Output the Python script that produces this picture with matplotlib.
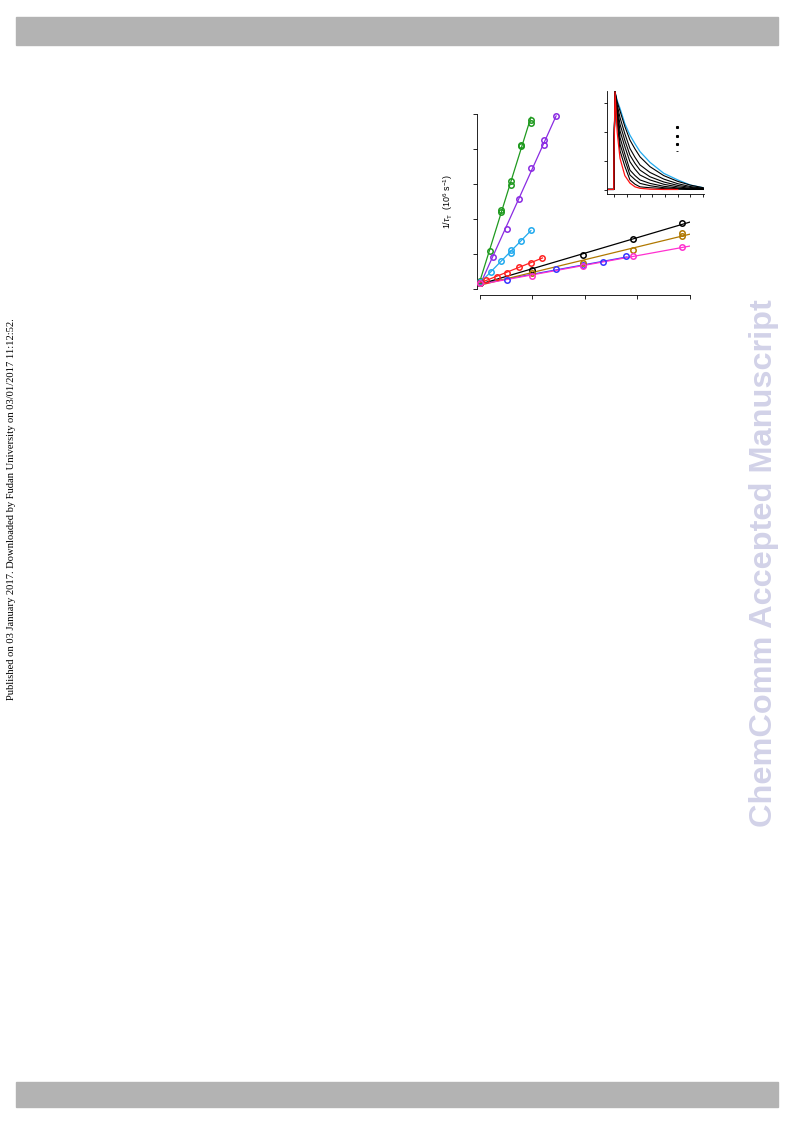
import numpy as np
import matplotlib
matplotlib.use("Agg")
from matplotlib import pyplot as plt
from matplotlib.patches import Rectangle

plt.rcParams["font.family"] = ["Liberation Sans", "DejaVu Sans"]
plt.rcParams["mathtext.fontset"] = "custom"
plt.rcParams["mathtext.rm"] = "Liberation Sans"
plt.rcParams["mathtext.it"] = "Liberation Sans:italic"

# main panel: 1/tau_T vs concentration, one series per quencher
green_x = [0.0, 0.20, 0.40, 0.40, 0.59, 0.59, 0.775, 0.775, 0.965, 0.965]
green_y = [0.23, 1.09, 2.20, 2.26, 2.98, 3.10, 4.09, 4.12, 4.75, 4.82]
purple_x = [0.0, 0.25, 0.51, 0.74, 0.98, 1.22, 1.22, 1.45]
purple_y = [0.20, 0.92, 1.72, 2.57, 3.45, 4.11, 4.25, 4.95]
cyan_x = [0.0, 0.21, 0.40, 0.59, 0.59, 0.78, 0.965]
cyan_y = [0.20, 0.49, 0.80, 1.03, 1.11, 1.39, 1.68]
red_x = [0.0, 0.11, 0.32, 0.51, 0.74, 0.965, 1.19]
red_y = [0.19, 0.26, 0.35, 0.47, 0.62, 0.76, 0.90]
black_x = [0.0, 1.0, 1.97, 2.92, 3.84]
black_y = [0.18, 0.56, 0.99, 1.42, 1.88]
brown_x = [0.0, 1.0, 1.97, 2.92, 3.84, 3.84]
brown_y = [0.18, 0.46, 0.75, 1.13, 1.51, 1.60]
magenta_x = [0.0, 1.0, 1.97, 2.92, 3.84]
magenta_y = [0.18, 0.37, 0.65, 0.94, 1.21]
blue_x = [0.0, 0.51, 1.45, 1.97, 2.35, 2.79]
blue_y = [0.18, 0.26, 0.57, 0.68, 0.78, 0.94]

series = [
    (green_x, green_y, "#1f9a1f", 0.97),
    (purple_x, purple_y, "#8a2be2", 1.45),
    (cyan_x, cyan_y, "#22aaee", 0.97),
    (red_x, red_y, "#ff2020", 1.19),
    (blue_x, blue_y, "#3535ff", 2.80),
    (black_x, black_y, "#000000", 4.0),
    (brown_x, brown_y, "#b07800", 4.0),
    (magenta_x, magenta_y, "#ff30d0", 4.0),
]

# inset: transient decays (normalised), cyan slowest, red fastest
t = [-0.45, -0.02, 0.0, 0.08, 0.25, 0.47, 0.85, 1.25, 1.65, 2.04, 2.82, 3.9, 5.0, 6.0, 7.0]
decay_cyan = [0.02, 0.02, 1.2, 3.40, 3.10, 2.83, 2.30, 1.90, 1.60, 1.33, 0.96, 0.58, 0.35, 0.17, 0.08]
decay_black = [
    [0.02, 0.02, 1.2, 3.40, 3.05, 2.74, 2.20, 1.73, 1.42, 1.15, 0.81, 0.50, 0.30, 0.17, 0.08],
    [0.02, 0.02, 1.2, 3.40, 2.95, 2.51, 1.95, 1.44, 1.13, 0.87, 0.61, 0.38, 0.22, 0.12, 0.06],
    [0.02, 0.02, 1.2, 3.40, 2.85, 2.28, 1.72, 1.21, 0.92, 0.69, 0.46, 0.28, 0.16, 0.09, 0.05],
    [0.02, 0.02, 1.2, 3.40, 2.75, 2.05, 1.50, 0.98, 0.72, 0.52, 0.35, 0.20, 0.11, 0.06, 0.04],
    [0.02, 0.02, 1.2, 3.40, 2.65, 1.82, 1.25, 0.69, 0.50, 0.35, 0.23, 0.13, 0.07, 0.04, 0.03],
    [0.02, 0.02, 1.2, 3.40, 2.50, 1.59, 1.05, 0.52, 0.36, 0.23, 0.15, 0.08, 0.05, 0.03, 0.02],
    [0.02, 0.02, 1.2, 3.40, 2.35, 1.36, 0.82, 0.35, 0.20, 0.11, 0.08, 0.05, 0.03, 0.02, 0.02],
]
decay_red = [0.02, 0.02, 1.2, 3.40, 2.00, 1.10, 0.50, 0.24, 0.11, 0.06, 0.03, 0.02, 0.02]

legend_key_x = [4.94, 4.94, 4.94, 4.94]
legend_key_y = [2.18, 1.87, 1.59, 1.35]

W, H = 793, 1123
fig = plt.figure(figsize=(W / 100, H / 100), dpi=100)

# page header / footer bars
fig.patches.append(Rectangle((16 / W, 1 - 45 / H), 762 / W, 28 / H,
                             transform=fig.transFigure, color="#b3b3b3", zorder=0))
fig.patches.append(Rectangle((16 / W, 1 - 1107 / H), 762 / W, 25 / H,
                             transform=fig.transFigure, color="#b3b3b3", zorder=0))

fig.text(12 / W, 1 - 509 / H,
         "Published on 03 January 2017. Downloaded by Fudan University on 03/01/2017 11:12:52.",
         rotation=90, ha="center", va="center", fontsize=7.6, family="Liberation Serif")
fig.text(764 / W, 1 - 563 / H, "ChemComm Accepted Manuscript", rotation=90,
         ha="center", va="center", fontsize=23.4, fontweight="bold", color="#d2d2e8")

# main axes
ax = fig.add_axes([477 / W, 1 - 295 / H, 213 / W, 181 / H])
for x, y, c, xend in series:
    k, b = np.polyfit(x, y, 1)
    xl = np.array([0.0, xend])
    ax.plot(xl, k * xl + b, "-", color=c, lw=0.9, zorder=2)
    ax.plot(x, y, "o", mfc="none", mec=c, mew=1.1, ms=3.9, clip_on=False, zorder=3)

ax.set_xlim(-0.057, 4.0)
ax.set_ylim(-0.165, 5.0)
ax.set_xticks([0, 1, 2, 3, 4])
ax.set_yticks([0, 1, 2, 3, 4, 5])
ax.tick_params(direction="out", length=2.8, width=0.6, labelleft=False, labelbottom=False)
ax.spines["top"].set_visible(False)
ax.spines["right"].set_visible(False)
ax.spines["left"].set_bounds(0, 5)
ax.spines["bottom"].set_bounds(0, 4)
for s in ["left", "bottom"]:
    ax.spines[s].set_linewidth(0.6)
ax.patch.set_alpha(0)

fig.text(448 / W, 1 - 201 / H, r"1/$\tau_\mathrm{T}$  (10$^6$ s$^{-1}$)",
         rotation=90, ha="center", va="center", fontsize=6.4)

# inset axes
ins = fig.add_axes([607 / W, 1 - 193.5 / H, 97 / W, 102.5 / H])
ins.plot(t, decay_cyan, color="#22aaee", lw=0.9)
for d in decay_black:
    ins.plot(t, d, color="black", lw=0.8)
ins.plot(t[:len(decay_red)], decay_red, color="#ff1010", lw=0.9)
ins.plot(legend_key_x[:3], legend_key_y[:3], "s", color="black", ms=1.2, lw=0)
ins.plot(legend_key_x[3:], legend_key_y[3:], "_", color="black", ms=2, mew=0.6, lw=0)
ins.set_xlim(-0.55, 7.06)
ins.set_ylim(-0.12, 3.43)
ins.set_xticks(range(8))
ins.set_yticks([0, 1, 2, 3])
ins.tick_params(direction="out", length=2.4, width=0.6, labelleft=False, labelbottom=False)
ins.spines["top"].set_visible(False)
ins.spines["right"].set_visible(False)
for s in ["left", "bottom"]:
    ins.spines[s].set_linewidth(0.6)
ins.patch.set_alpha(0)

fig.savefig("out.png", dpi=100)
